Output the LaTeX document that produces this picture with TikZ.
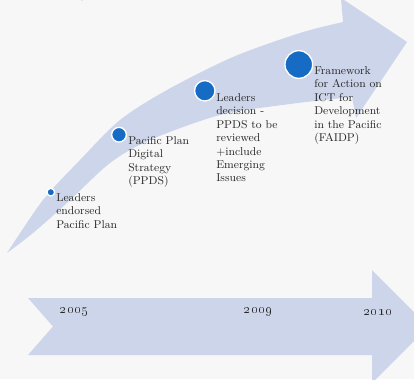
\documentclass[tikz,border=0pt]{standalone}

\definecolor{bandblue}{RGB}{205,213,234}
\definecolor{dotblue}{RGB}{22,108,196}
\definecolor{paper}{RGB}{247,247,247}
\definecolor{inkgray}{RGB}{40,40,40}
\definecolor{tealdot}{RGB}{60,150,190}

\begin{document}
\begin{tikzpicture}[x=0.75pt,y=-0.75pt,
  milestone/.style={circle,fill=dotblue,draw=white,line width=1pt,inner sep=0pt},
  note/.style={anchor=north west,align=left,inner sep=0pt,text=inkgray,
    font=\fontsize{8.5}{10.1}\selectfont},
  yearlabel/.style={inner sep=0pt,text=black!85,font=\fontsize{10.5}{12}\selectfont\bfseries}]
\fill[paper] (0,0) rectangle (414,379);
\useasboundingbox (0,0) rectangle (414,379);
\clip (0,0) rectangle (414,379);

% curved arrow
\fill[bandblue] plot[smooth] coordinates {(7,253) (43,200) (80,160) (120,120) (167,90) (233,57) (300,33) (343,22)}
  -- (341,-2) -- (407,42) -- (356,118) -- (352,97)
  -- plot[smooth] coordinates {(352,97) (290,104) (220,115) (150,140) (110,163) (67,203) (33,233) (7,253)}
  -- cycle;

% timeline arrow
\fill[bandblue] (28,298) -- (372,298) -- (372,270) -- (428.5,326.5) -- (372,383)
  -- (372,355) -- (28,355) -- (53,326.5) -- cycle;

\node[circle,fill=tealdot,minimum size=12pt,inner sep=0pt] (topdot) at (82,-7.8) {};

% milestones
\node[milestone,minimum size=5.75pt] (m1) at (50.8,192.2) {};
\node[milestone,minimum size=11pt] (m2) at (119,134.7) {};
\node[milestone,minimum size=15.3pt] (m3) at (204.8,90.8) {};
\node[milestone,minimum size=20.75pt] (m4) at (298.8,64.5) {};

\node[note] (t1) at (56,193) {Leaders\\endorsed\\Pacific Plan};
\node[note] (t2) at (128,136) {Pacific Plan\\Digital\\Strategy\\(PPDS)};
\node[note] (t3) at (216,93) {Leaders\\decision -\\PPDS to be\\reviewed\\+include\\Emerging\\Issues};
\node[note] (t4) at (314,66) {Framework\\for Action on\\ICT for\\Development\\in the Pacific\\(FAIDP)};

% years
\node[yearlabel] (y1) at (74.5,312) {\oldstylenums{2005}};
\node[yearlabel] (y2) at (258.5,312) {\oldstylenums{2009}};
\node[yearlabel] (y3) at (378,312) {\oldstylenums{2010}};
\end{tikzpicture}
\end{document}
